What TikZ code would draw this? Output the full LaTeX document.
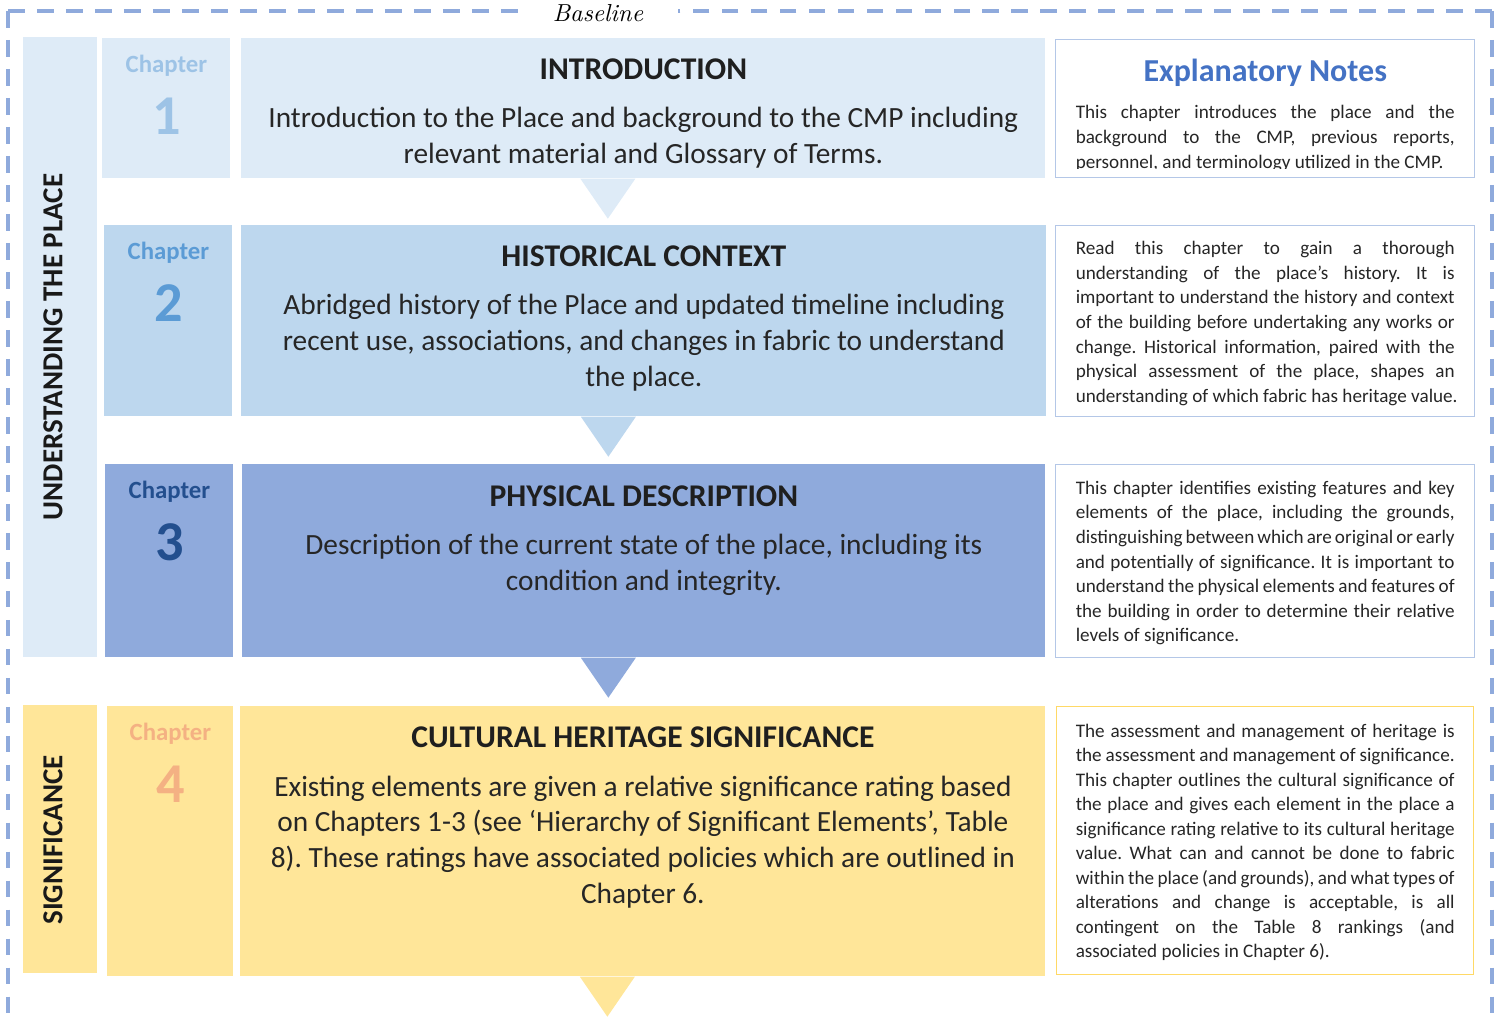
\documentclass[tikz,border=0pt]{standalone}
\usepackage{fontspec}
\setmainfont{Carlito}
\newfontfamily\handfont{lmroman10-italic}[Extension=.otf]
\usepackage{xcolor}
\usetikzlibrary{positioning,calc}
\frenchspacing

\definecolor{paleblue}{HTML}{DEEBF7}
\definecolor{midblue}{HTML}{BDD7EE}
\definecolor{deepblue}{HTML}{8FAADC}
\definecolor{paleyellow}{HTML}{FFE699}
\definecolor{frameblue}{HTML}{8FAADC}
\definecolor{lineblue}{HTML}{B4C7E7}
\definecolor{lineyellow}{HTML}{FFD966}
\definecolor{notesblue}{HTML}{4472C4}
\definecolor{chone}{HTML}{9DC3E6}
\definecolor{chtwo}{HTML}{5B9BD5}
\definecolor{chthree}{HTML}{234F8E}
\definecolor{chfour}{HTML}{F4B183}
\definecolor{ink}{HTML}{262626}

\newlength\notew
\setlength\notew{7.58cm}
\newcommand{\jl}[1]{\makebox[\notew][s]{#1}}
\newcommand{\lastl}[1]{\makebox[\notew][l]{#1}}

\begin{document}
\begin{tikzpicture}[x=0.02cm,y=-0.02cm,
    box/.style={rectangle,inner sep=0pt,anchor=north west},
    wh/.style 2 args={minimum width=#1*0.02cm,minimum height=#2*0.02cm},
    frame/.style={draw=frameblue,line width=2.2pt,dash pattern=on 9.5pt off 7pt},
    bandtxt/.style={rotate=90,font=\fontsize{16.5}{18}\selectfont\bfseries,text=black!90},
    chlbl/.style={font=\fontsize{14.1}{16}\selectfont\bfseries},
    chnum/.style={font=\fontsize{32}{34}\selectfont\bfseries},
    ttl/.style={font=\fontsize{18}{20}\selectfont\bfseries,text=black!88},
    body/.style={font=\fontsize{16.7}{20.4}\selectfont,align=center,text=ink,inner sep=0pt},
    note/.style={box,draw=lineblue,line width=0.8pt,fill=white},
    notetxt/.style={font=\fontsize{10.9}{13.95}\selectfont,align=left,text=ink,inner sep=0pt}]

  \useasboundingbox (0,0) rectangle (1504,1024);

  \draw[frame] (8,11) -- (522,11);
  \draw[frame] (8,11) -- (8,1040);
  \draw[frame] (1492,11) -- (678,11);
  \draw[frame] (1492,11) -- (1492,1040);
  \node[font=\handfont\fontsize{14}{14}\selectfont,inner sep=1pt] (baseline) at (598,13) {Baseline};

  \node[box,wh={74}{620},fill=paleblue] (band1) at (23,37) {};
  \node[bandtxt] (band1t) at (53,347) {UNDERSTANDING THE PLACE};
  \node[box,wh={74}{268},fill=paleyellow] (band2) at (23,705) {};
  \node[bandtxt] (band2t) at (53,840) {SIGNIFICANCE};

  \node[box,wh={128}{140},fill=paleblue] (ch1) at (102,38) {};
  \node[box,wh={128}{191},fill=midblue] (ch2) at (104,225) {};
  \node[box,wh={128}{193},fill=deepblue] (ch3) at (105,464) {};
  \node[box,wh={126}{270},fill=paleyellow] (ch4) at (107,706) {};

  \foreach \c/\col/\n in {ch1/chone/1, ch2/chtwo/2, ch3/chthree/3, ch4/chfour/4} {
    \node[chlbl,text=\col] (\c l) at ($(\c.north)+(0,28)$) {Chapter};
    \node[chnum,text=\col] (\c n) at ($(\c.north)+(0,78)$) {\n};
  }

  \node[box,wh={804}{140},fill=paleblue] (intro) at (241,38) {};
  \node[box,wh={805}{191},fill=midblue] (hist) at (241,225) {};
  \node[box,wh={803}{193},fill=deepblue] (phys) at (242,464) {};
  \node[box,wh={805}{270},fill=paleyellow] (cult) at (240,706) {};

  \foreach \b/\col in {intro/paleblue, hist/midblue, phys/deepblue, cult/paleyellow}
    \fill[\col] ($(\b.south)+(-63,0)$) -- ++(55,0) -- ++(-27.5,40) -- cycle;

  \node[ttl] (introt) at ($(intro.north)+(0,31)$) {INTRODUCTION};
  \node[body] (introb) at ($(intro.north)+(0,100)$)
    {Introduction to the Place and background to the CMP including\\
     relevant material and Glossary of Terms.};
  \node[ttl] (histt) at ($(hist.north)+(0,31)$) {HISTORICAL CONTEXT};
  \node[body] (histb) at ($(hist.north)+(0,118)$)
    {Abridged history of the Place and updated timeline including\\
     recent use, associations, and changes in fabric to understand\\
     the place.};
  \node[ttl] (physt) at ($(phys.north)+(0,32)$) {PHYSICAL DESCRIPTION};
  \node[body] (physb) at ($(phys.north)+(0,101)$)
    {Description of the current state of the place, including its\\
     condition and integrity.};
  \node[ttl] (cultt) at ($(cult.north)+(0,31)$) {CULTURAL HERITAGE SIGNIFICANCE};
  \node[body] (cultb) at ($(cult.north)+(0,136)$)
    {Existing elements are given a relative significance rating based\\
     on Chapters 1-3 (see ‘Hierarchy of Significant Elements’, Table\\
     8). These ratings have associated policies which are outlined in\\
     Chapter 6.};

  \node[note,wh={419}{138}] (n1) at (1055,39) {};
  \node[note,wh={419}{191}] (n2) at (1055,225) {};
  \node[note,wh={419}{193}] (n3) at (1055,464) {};
  \node[note,wh={417}{268},draw=lineyellow] (n4) at (1056,706) {};

  \node[font=\fontsize{18.2}{20}\selectfont\bfseries,text=notesblue] (n1t) at ($(n1.north)+(0,34)$) {Explanatory Notes};
  \begin{scope}
    \clip (n1.north west) rectangle ($(n1.south east)+(0,-10)$);
    \node[notetxt] (n1b) at ($(n1.north)+(0,99.5)$)
      {\jl{This chapter introduces the place and the}\\
       \jl{background to the CMP, previous reports,}\\
       \lastl{personnel, and terminology utilized in the CMP.}};
  \end{scope}
  \node[notetxt] (n2b) at ($(n2.north)+(0,98.5)$)
    {\jl{Read this chapter to gain a thorough}\\
     \jl{understanding of the place’s history. It is}\\
     \jl{important to understand the history and context}\\
     \jl{of the building before undertaking any works or}\\
     \jl{change. Historical information, paired with the}\\
     \jl{physical assessment of the place, shapes an}\\
     \lastl{understanding of which fabric has heritage value.}};
  \node[notetxt] (n3b) at ($(n3.north)+(0,99)$)
    {\jl{This chapter identifies existing features and key}\\
     \jl{elements of the place, including the grounds,}\\
     \jl{distinguishing between which are original or early}\\
     \jl{and potentially of significance. It is important to}\\
     \jl{understand the physical elements and features of}\\
     \jl{the building in order to determine their relative}\\
     \lastl{levels of significance.}};
  \node[notetxt] (n4b) at ($(n4.north)+(0,136.5)$)
    {\jl{The assessment and management of heritage is}\\
     \jl{the assessment and management of significance.}\\
     \jl{This chapter outlines the cultural significance of}\\
     \jl{the place and gives each element in the place a}\\
     \jl{significance rating relative to its cultural heritage}\\
     \jl{value. What can and cannot be done to fabric}\\
     \jl{within the place (and grounds), and what types of}\\
     \jl{alterations and change is acceptable, is all}\\
     \jl{contingent on the Table 8 rankings (and}\\
     \lastl{associated policies in Chapter 6).}};
\end{tikzpicture}
\end{document}
